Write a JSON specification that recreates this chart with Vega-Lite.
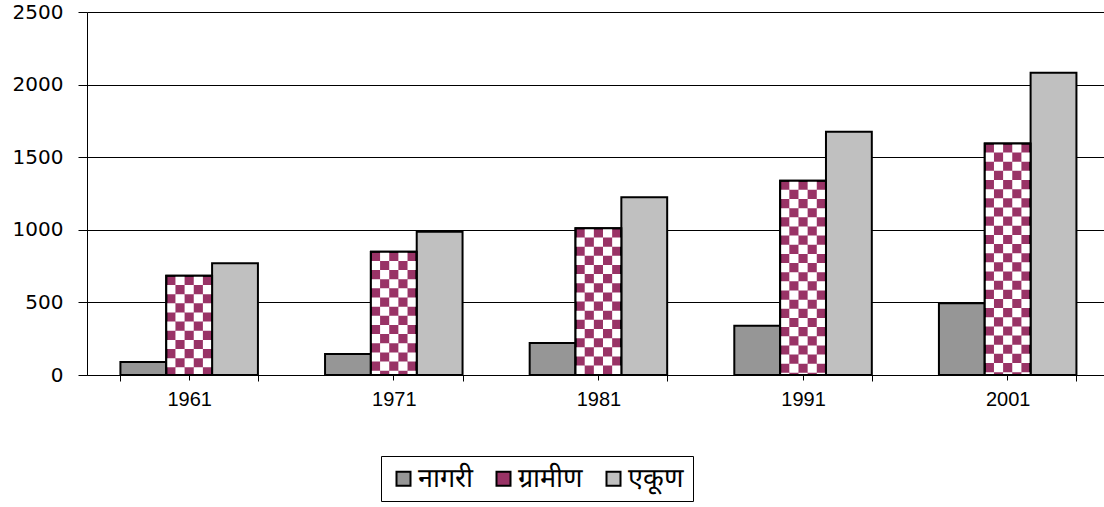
{
  "$schema": "https://vega.github.io/schema/vega-lite/v6.json",
  "width": 1017,
  "height": 363,
  "autosize": {"type": "none"},
  "padding": {"left": 87, "top": 12, "right": 0, "bottom": 132},
  "background": "white",
  "config": {"view": {"stroke": null}, "font": "Liberation Sans"},
  "data": {
    "values": [
      {"year": "1961", "series": "नागरी", "value": 89},
      {"year": "1961", "series": "ग्रामीण", "value": 683},
      {"year": "1961", "series": "एकूण", "value": 769},
      {"year": "1971", "series": "नागरी", "value": 145},
      {"year": "1971", "series": "ग्रामीण", "value": 849},
      {"year": "1971", "series": "एकूण", "value": 987},
      {"year": "1981", "series": "नागरी", "value": 220},
      {"year": "1981", "series": "ग्रामीण", "value": 1010},
      {"year": "1981", "series": "एकूण", "value": 1224},
      {"year": "1991", "series": "नागरी", "value": 340},
      {"year": "1991", "series": "ग्रामीण", "value": 1338},
      {"year": "1991", "series": "एकूण", "value": 1675},
      {"year": "2001", "series": "नागरी", "value": 495},
      {"year": "2001", "series": "ग्रामीण", "value": 1595},
      {"year": "2001", "series": "एकूण", "value": 2081}
    ]
  },
  "resolve": {"axis": {"x": "independent"}},
  "layer": [
    {
      "mark": {"type": "bar", "stroke": "black", "strokeWidth": 2, "fillOpacity": 1},
      "encoding": {
        "x": {
          "field": "year", "type": "nominal",
          "scale": {"paddingInner": 0.328, "paddingOuter": 0.149, "align": 0.548},
          "axis": {"title": null, "labelAngle": 0, "tickBand": "extent", "tickSize": 6, "tickColor": "black", "domainColor": "black", "labelFontSize": 20, "labelColor": "black", "labelPadding": 8, "grid": false, "labelFont": "Liberation Sans"}
        },
        "xOffset": {"field": "series", "type": "nominal", "scale": {"domain": ["नागरी", "ग्रामीण", "एकूण"], "paddingInner": 0, "paddingOuter": 0}},
        "y": {
          "field": "value", "type": "quantitative",
          "scale": {"domain": [0, 2500], "nice": false},
          "axis": {"values": [0, 500, 1000, 1500, 2000, 2500], "format": "d", "grid": true, "gridColor": "black", "gridOpacity": 1, "gridWidth": 1, "domainColor": "black", "tickColor": "black", "tickSize": 9, "labelPadding": 15, "labelFontSize": 20, "labelColor": "black", "title": null, "labelFont": "DejaVu Sans"}
        },
        "fill": {
          "field": "series", "type": "nominal",
          "scale": {"domain": ["नागरी", "ग्रामीण", "एकूण"], "range": ["#969696", "#993366", "#c0c0c0"]},
          "legend": {"orient": "none", "legendX": 294, "legendY": 444, "direction": "horizontal", "title": null, "symbolType": "square", "symbolSize": 196, "symbolStrokeColor": "black", "symbolStrokeWidth": 2, "labelFontSize": 27, "labelColor": "black", "strokeColor": "black", "fillColor": "white", "padding": 9, "columnPadding": 17, "labelOffset": 1, "labelFont": "sans-serif"}
        }
      }
    },
    {
      "transform": [{"filter": "datum.series === 'ग्रामीण'"}],
      "mark": {"type": "rule", "color": "white", "strokeWidth": 9.15, "strokeDash": [9.15, 9.15], "strokeDashOffset": 9.15, "xOffset": -18.3},
      "encoding": {"x": {"field": "year", "type": "nominal", "axis": null}, "y": {"field": "value", "type": "quantitative"}, "y2": {"datum": 0}}
    },
    {
      "transform": [{"filter": "datum.series === 'ग्रामीण'"}],
      "mark": {"type": "rule", "color": "white", "strokeWidth": 9.15, "strokeDash": [9.15, 9.15], "strokeDashOffset": 0, "xOffset": -9.15},
      "encoding": {"x": {"field": "year", "type": "nominal", "axis": null}, "y": {"field": "value", "type": "quantitative"}, "y2": {"datum": 0}}
    },
    {
      "transform": [{"filter": "datum.series === 'ग्रामीण'"}],
      "mark": {"type": "rule", "color": "white", "strokeWidth": 9.15, "strokeDash": [9.15, 9.15], "strokeDashOffset": 9.15, "xOffset": 0},
      "encoding": {"x": {"field": "year", "type": "nominal", "axis": null}, "y": {"field": "value", "type": "quantitative"}, "y2": {"datum": 0}}
    },
    {
      "transform": [{"filter": "datum.series === 'ग्रामीण'"}],
      "mark": {"type": "rule", "color": "white", "strokeWidth": 9.15, "strokeDash": [9.15, 9.15], "strokeDashOffset": 0, "xOffset": 9.15},
      "encoding": {"x": {"field": "year", "type": "nominal", "axis": null}, "y": {"field": "value", "type": "quantitative"}, "y2": {"datum": 0}}
    },
    {
      "transform": [{"filter": "datum.series === 'ग्रामीण'"}],
      "mark": {"type": "rule", "color": "white", "strokeWidth": 9.15, "strokeDash": [9.15, 9.15], "strokeDashOffset": 9.15, "xOffset": 18.3},
      "encoding": {"x": {"field": "year", "type": "nominal", "axis": null}, "y": {"field": "value", "type": "quantitative"}, "y2": {"datum": 0}}
    },
    {
      "transform": [{"filter": "datum.series === 'ग्रामीण'"}],
      "mark": {"type": "bar", "fillOpacity": 0, "stroke": "black", "strokeWidth": 2},
      "encoding": {
        "x": {"field": "year", "type": "nominal", "axis": {"orient": "bottom", "title": null, "labels": false, "domain": false, "grid": false, "tickSize": 5, "tickColor": "black", "tickBand": "center", "offset": 0}},
        "xOffset": {"field": "series", "type": "nominal"},
        "y": {"field": "value", "type": "quantitative"}
      }
    }
  ]
}
